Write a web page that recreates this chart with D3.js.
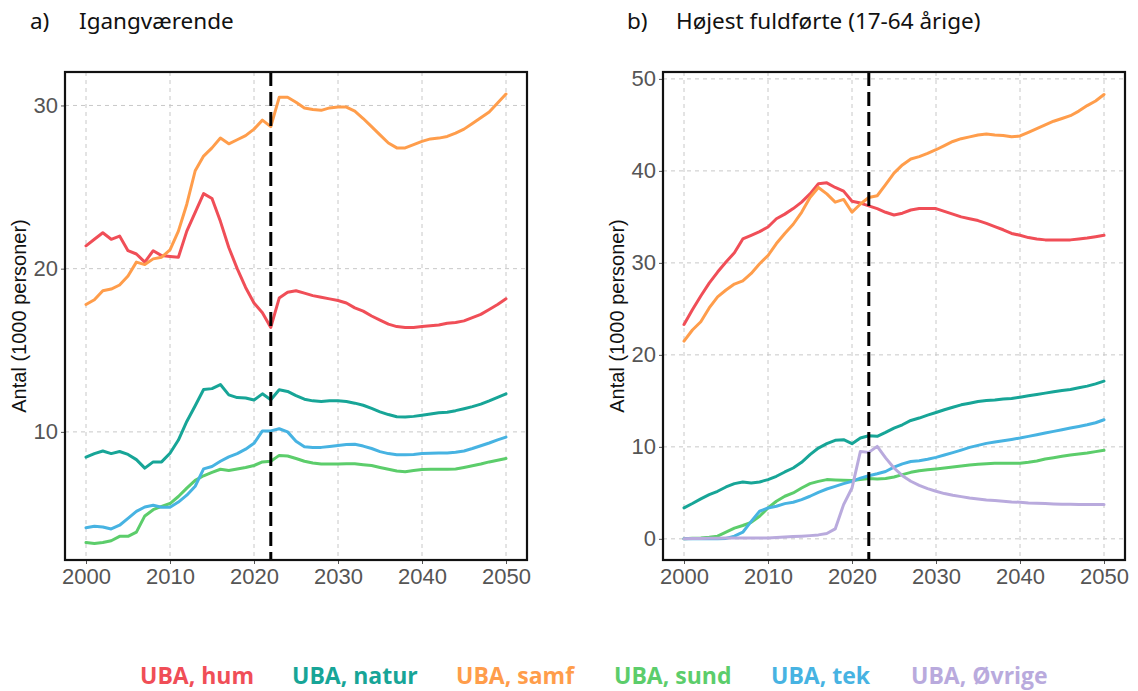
<!DOCTYPE html>
<html><head><meta charset="utf-8">
<script src="https://cdn.jsdelivr.net/npm/d3@7"></script>
<style>body{margin:0;background:#fff}svg{display:block}</style>
</head><body>
<svg id="c" width="1138" height="691"></svg>
<script>
const years = d3.range(2000, 2051);
const seriesNames = ["UBA, hum","UBA, natur","UBA, samf","UBA, sund","UBA, tek","UBA, Øvrige"];
const seriesColors = ["#F04E57","#17A597","#FF9D4B","#5CCD6B","#47B3E2","#B9AADD"];

// Panel a) Igangværende (1000 personer)
const a_hum = [21.4,21.8,22.2,21.8,22.0,21.1,20.9,20.4,21.1,20.8,20.75,20.7,22.3,23.45,24.6,24.3,22.9,21.3,20.0,18.85,17.9,17.3,16.4,18.2,18.55,18.65,18.5,18.35,18.25,18.15,18.05,17.9,17.6,17.4,17.1,16.85,16.6,16.45,16.4,16.4,16.45,16.5,16.55,16.65,16.7,16.8,17.0,17.2,17.5,17.8,18.15];
const a_natur = [8.45,8.67,8.83,8.67,8.8,8.62,8.3,7.78,8.16,8.16,8.69,9.5,10.64,11.6,12.6,12.65,12.9,12.27,12.1,12.08,11.95,12.33,11.97,12.58,12.48,12.22,12.0,11.9,11.86,11.9,11.9,11.86,11.76,11.63,11.44,11.23,11.06,10.93,10.91,10.95,11.02,11.1,11.17,11.2,11.3,11.42,11.55,11.7,11.9,12.12,12.33];
const a_samf = [17.8,18.1,18.65,18.75,19.0,19.55,20.4,20.25,20.6,20.7,21.15,22.3,23.95,26.0,26.9,27.4,28.0,27.65,27.9,28.15,28.55,29.1,28.7,30.5,30.5,30.2,29.85,29.75,29.7,29.85,29.9,29.9,29.65,29.2,28.7,28.2,27.7,27.4,27.4,27.6,27.8,27.95,28.0,28.1,28.3,28.55,28.9,29.25,29.6,30.15,30.7];
const a_sund = [3.22,3.16,3.22,3.33,3.6,3.6,3.86,4.85,5.23,5.44,5.61,6.04,6.55,7.03,7.31,7.52,7.71,7.63,7.73,7.82,7.94,8.16,8.2,8.56,8.52,8.37,8.2,8.09,8.03,8.03,8.03,8.05,8.05,7.99,7.94,7.82,7.71,7.6,7.56,7.63,7.69,7.71,7.71,7.71,7.73,7.82,7.92,8.03,8.16,8.26,8.37];
const a_tek = [4.13,4.22,4.17,4.05,4.28,4.7,5.13,5.4,5.5,5.38,5.38,5.7,6.12,6.67,7.73,7.88,8.2,8.47,8.67,8.94,9.3,10.06,10.06,10.19,10.0,9.43,9.09,9.05,9.05,9.11,9.17,9.22,9.24,9.13,8.98,8.79,8.67,8.6,8.6,8.62,8.67,8.69,8.71,8.71,8.75,8.83,8.98,9.15,9.32,9.51,9.68];

// Panel b) Højest fuldførte (17-64 årige) (1000 personer)
const b_hum = [23.3,24.9,26.4,27.8,29.0,30.1,31.1,32.6,33.0,33.4,33.9,34.8,35.3,35.9,36.6,37.5,38.6,38.7,38.2,37.8,36.7,36.5,36.2,35.9,35.5,35.2,35.4,35.75,35.9,35.9,35.9,35.6,35.3,35.0,34.8,34.6,34.3,33.95,33.6,33.2,33.0,32.75,32.6,32.5,32.5,32.5,32.5,32.6,32.7,32.85,33.0];
const b_natur = [3.37,3.84,4.34,4.81,5.17,5.64,6.0,6.18,6.08,6.18,6.44,6.8,7.27,7.7,8.32,9.15,9.87,10.35,10.71,10.78,10.35,10.96,11.2,11.14,11.57,12.04,12.4,12.87,13.13,13.45,13.74,14.03,14.3,14.57,14.75,14.93,15.04,15.1,15.19,15.26,15.4,15.55,15.7,15.84,15.99,16.13,16.24,16.42,16.6,16.85,17.14];
const b_samf = [21.5,22.7,23.6,25.1,26.3,27.05,27.7,28.05,28.85,29.9,30.8,32.1,33.2,34.2,35.5,37.1,38.2,37.5,36.6,36.9,35.5,36.4,37.1,37.3,38.5,39.75,40.65,41.3,41.55,41.9,42.3,42.75,43.2,43.5,43.7,43.9,44.0,43.9,43.85,43.7,43.8,44.2,44.6,45.0,45.4,45.7,46.0,46.5,47.1,47.6,48.3];
const b_sund = [0,0.07,0.1,0.18,0.29,0.72,1.16,1.45,1.8,2.46,3.36,4.09,4.63,4.99,5.53,6.0,6.25,6.44,6.4,6.37,6.33,6.44,6.55,6.51,6.55,6.73,6.98,7.23,7.41,7.52,7.6,7.7,7.81,7.92,8.03,8.1,8.17,8.21,8.21,8.21,8.21,8.32,8.46,8.68,8.82,8.97,9.11,9.22,9.33,9.48,9.62];
const b_tek = [0,0,0,0,0,0.05,0.3,0.72,1.9,3.0,3.36,3.54,3.83,3.98,4.27,4.63,5.06,5.42,5.71,6.0,6.25,6.6,6.86,7.07,7.32,7.79,8.15,8.41,8.5,8.65,8.86,9.11,9.37,9.65,9.94,10.16,10.38,10.52,10.67,10.81,10.96,11.14,11.32,11.5,11.68,11.86,12.04,12.22,12.4,12.62,12.95];
const b_ovrige = [0,0.03,0.05,0.06,0.07,0.08,0.09,0.1,0.1,0.1,0.1,0.15,0.2,0.25,0.29,0.35,0.43,0.58,1.08,3.72,5.53,9.5,9.4,10.05,8.8,7.7,6.87,6.26,5.82,5.46,5.17,4.92,4.74,4.59,4.45,4.34,4.23,4.16,4.09,4.01,3.98,3.9,3.87,3.83,3.8,3.76,3.76,3.73,3.73,3.73,3.73];

const xTicks = [2000,2010,2020,2030,2040,2050];
const aYTicks = [10,20,30];
const bYTicks = [0,10,20,30,40,50];
const projectionStart = 2022;
const titles = ["a)", "Igangværende", "b)", "Højest fuldførte (17-64 årige)"];
const yTitle = "Antal (1000 personer)";

const svg = d3.select("#c");
const axisFont = "'Liberation Sans', Arial, sans-serif";

function panel(opts){
  const {left,right,top,bottom,ydom,yticks,series} = opts;
  const x = d3.scaleLinear().domain([1997.5,2052.5]).range([left,right]);
  const y = d3.scaleLinear().domain(ydom).range([bottom,top]);
  const g = svg.append("g");
  g.selectAll(".gx").data(xTicks).join("line")
    .attr("x1",d=>x(d)).attr("x2",d=>x(d)).attr("y1",top).attr("y2",bottom)
    .attr("stroke","#c8c8c8").attr("stroke-width",1).attr("stroke-dasharray","4,4");
  g.selectAll(".gy").data(yticks).join("line")
    .attr("y1",d=>y(d)).attr("y2",d=>y(d)).attr("x1",left).attr("x2",right)
    .attr("stroke","#c8c8c8").attr("stroke-width",1).attr("stroke-dasharray","4,4");
  const ax = g.append("g").attr("transform",`translate(0,${bottom})`)
    .call(d3.axisBottom(x).tickValues(xTicks).tickFormat(d3.format("d")).tickSize(4).tickPadding(4));
  const ay = g.append("g").attr("transform",`translate(${left},0)`)
    .call(d3.axisLeft(y).tickValues(yticks).tickSize(4).tickPadding(3));
  [ax,ay].forEach(a=>{
    a.attr("font-family",null).attr("font-size",null);
    a.select(".domain").remove();
    a.selectAll(".tick line").attr("stroke","#555");
    a.selectAll("text").attr("fill","#555").style("font-family",axisFont).style("font-size","22px");
  });
  ax.selectAll("text").attr("dy","0.71em");
  const line = d3.line().x((d,i)=>x(years[i])).y(d=>y(d));
  series.forEach(s=>{
    g.append("path").datum(s.values).attr("d",line)
      .attr("fill","none").attr("stroke",s.color).attr("stroke-width",3)
      .attr("stroke-linejoin","round").attr("stroke-linecap","round");
  });
  g.append("line").attr("x1",x(projectionStart)).attr("x2",x(projectionStart))
    .attr("y1",top).attr("y2",bottom).attr("stroke","#000").attr("stroke-width",3)
    .attr("stroke-dasharray","14,6");
  g.append("rect").attr("x",left).attr("y",top).attr("width",right-left).attr("height",bottom-top)
    .attr("fill","none").attr("stroke","#111").attr("stroke-width",2.2);
  g.append("text").attr("transform",`translate(${left-39},${(top+bottom)/2}) rotate(-90)`)
    .attr("text-anchor","middle").style("font-family",axisFont)
    .style("font-size","20px").attr("fill","#111").text(yTitle);
}

panel({left:65,right:527,top:72,bottom:560,ydom:[2.15,32.05],yticks:aYTicks,
  series:[{values:a_hum,color:seriesColors[0]},{values:a_natur,color:seriesColors[1]},
          {values:a_samf,color:seriesColors[2]},{values:a_sund,color:seriesColors[3]},
          {values:a_tek,color:seriesColors[4]}]});
panel({left:663,right:1125,top:72,bottom:560,ydom:[-2.3,50.75],yticks:bYTicks,
  series:[{values:b_hum,color:seriesColors[0]},{values:b_natur,color:seriesColors[1]},
          {values:b_samf,color:seriesColors[2]},{values:b_sund,color:seriesColors[3]},
          {values:b_tek,color:seriesColors[4]},{values:b_ovrige,color:seriesColors[5]}]});

const tf = "'Noto Sans', 'Open Sans', sans-serif";
[[30,titles[0]],[79,titles[1]],[627,titles[2]],[676,titles[3]]].forEach(([xx,t])=>{
  svg.append("text").attr("x",xx).attr("y",29).style("font-family",tf).style("font-size","22.5px")
    .attr("fill","#111").text(t);
});

const legX = [140,292,456,614,771,911];
seriesNames.forEach((n,i)=>{
  svg.append("text").attr("x",legX[i]).attr("y",684).style("font-family","'Open Sans', sans-serif")
    .style("font-weight","700").style("font-size","23px").attr("fill",seriesColors[i]).text(n);
});
</script>
</body></html>
